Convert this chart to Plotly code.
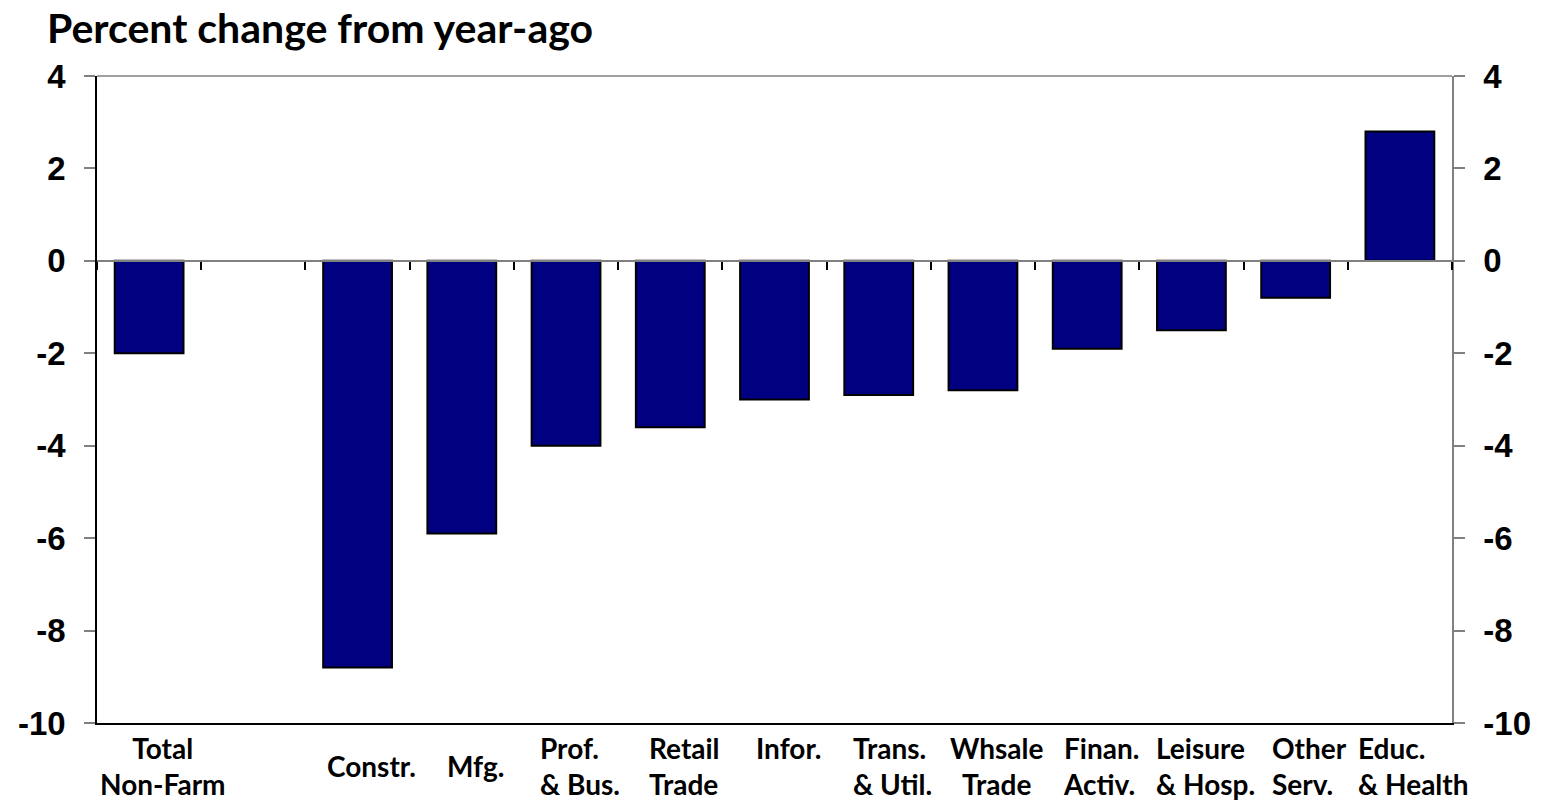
import plotly.graph_objects as go

# Sector categories (blank slot separates the total from the sectors)
categories = ["Total<br>Non-Farm", " ", "Constr.", "Mfg.", "Prof.<br>& Bus.",
              "Retail<br>Trade", "Infor.", "Trans.<br>& Util.", "Whsale<br>Trade",
              "Finan.<br>Activ.", "Leisure<br>& Hosp.", "Other<br>Serv.", "Educ.<br>& Health"]
pct_change = [-2.0, None, -8.8, -5.9, -4.0, -3.6, -3.0, -2.9, -2.8, -1.9, -1.5, -0.8, 2.8]
y_ticks = [4, 2, 0, -2, -4, -6, -8, -10]

Y_MIN, Y_MAX = -10, 4
W, H = 1547, 800
ML, MR, MT, MB = 97, 95, 76, 77

tick_font = dict(family="Liberation Sans, Arial", size=33, color="black", weight="bold")
cat_font = dict(family="Lato", size=28, color="black", weight="bold")

centered_labels = {"Total<br>Non-Farm", "Whsale<br>Trade"}
top_line_labels = {"Infor."}   # single-line label that sits on the first text row

fig = go.Figure()

fig.add_trace(go.Bar(
    x=categories, y=pct_change,
    marker=dict(color="#000080", line=dict(color="black", width=2)),
    width=0.66, xaxis="x", yaxis="y", showlegend=False, hoverinfo="x+y",
))

# helper trace that carries the secondary axes (right value axis, zero category axis)
fig.add_trace(go.Scatter(
    x=categories, y=[0] * len(categories), mode="markers",
    marker=dict(opacity=0), xaxis="x2", yaxis="y2",
    showlegend=False, hoverinfo="skip",
))

annotations = []
for cat in categories:
    if not cat.strip():
        continue
    text = cat + "<br>&nbsp;" if cat in top_line_labels else cat
    annotations.append(dict(
        x=cat, xref="x", y=0, yref="paper", yanchor="middle", yshift=-43,
        xanchor="center", xshift=14, showarrow=False, text=text,
        align="center" if cat in centered_labels else "left",
        font=cat_font,
    ))

fig.update_layout(
    width=W, height=H,
    margin=dict(l=ML, r=MR, t=MT, b=MB, pad=0),
    paper_bgcolor="white", plot_bgcolor="white",
    title=dict(
        text="Percent change from year-ago",
        x=47 / W, xanchor="left", xref="container",
        y=1 - 29 / H, yanchor="middle",
        font=dict(family="Lato", size=41, color="black", weight="bold"),
    ),
    bargap=0.34,
    xaxis=dict(
        type="category", categoryorder="array", categoryarray=categories,
        range=[-0.5, len(categories) - 0.5],
        showticklabels=False, ticks="", showgrid=False, zeroline=False,
        showline=True, linecolor="black", linewidth=1.5,
    ),
    xaxis2=dict(
        type="category", categoryorder="array", categoryarray=categories,
        range=[-0.5, len(categories) - 0.5],
        overlaying="x", anchor="free",
        position=(0 - Y_MIN) / (Y_MAX - Y_MIN),
        showticklabels=False, ticks="outside", tickson="boundaries",
        ticklen=8, tickcolor="black", tickwidth=1.5,
        showgrid=False, zeroline=False,
        showline=True, linecolor="#808080", linewidth=1.5,
        layer="above traces",
    ),
    yaxis=dict(
        range=[Y_MIN, Y_MAX], tickvals=y_ticks, ticktext=[str(v) for v in y_ticks],
        ticks="outside", ticklen=11, tickcolor="#808080", tickwidth=1.5,
        showline=True, linecolor="black", linewidth=1.5,
        showgrid=False, zeroline=False, tickfont=tick_font,
        ticklabelstandoff=12,
    ),
    yaxis2=dict(
        range=[Y_MIN, Y_MAX], tickvals=y_ticks, ticktext=[str(v) for v in y_ticks],
        overlaying="y", side="right", anchor="x",
        ticks="outside", ticklen=11, tickcolor="#808080", tickwidth=1.5,
        showline=True, linecolor="#808080", linewidth=1.5,
        showgrid=False, zeroline=False, tickfont=tick_font,
        ticklabelstandoff=12,
    ),
    shapes=[dict(type="line", xref="paper", yref="paper", x0=0, x1=1, y0=1, y1=1,
                 line=dict(color="#808080", width=1.5))],
    annotations=annotations,
)

fig.write_html("out.html")
